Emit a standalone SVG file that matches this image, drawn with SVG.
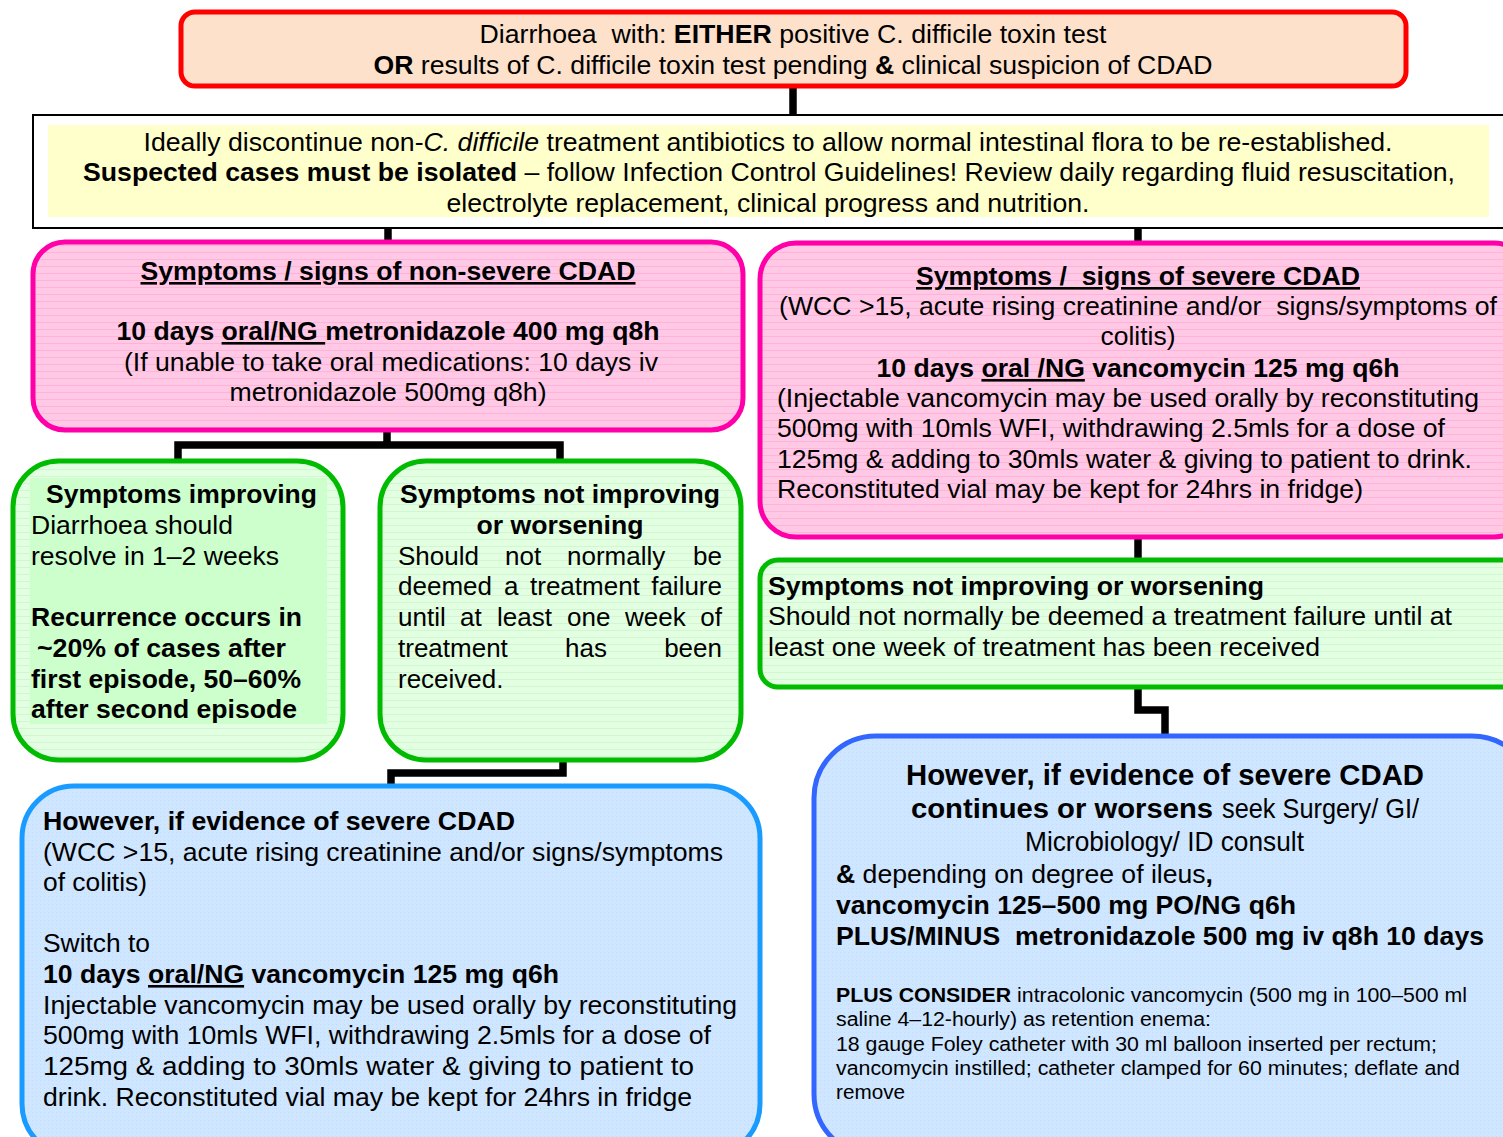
<svg xmlns="http://www.w3.org/2000/svg" width="1503" height="1137" viewBox="0 0 1503 1137">
<style>
text{font-family:"Liberation Sans",Arial,sans-serif;font-size:26px;fill:#000}
.b{font-weight:bold}
.m{text-anchor:middle}
.e{text-anchor:end}
.u{text-decoration:underline}
.s{font-size:20px}
.l{font-size:28px}
.p{white-space:pre}
.box{stroke-width:5}
.con{fill:none;stroke:#000;stroke-width:7.5;stroke-linejoin:miter}
</style>
<defs>
<pattern id="pk" width="8" height="7" patternUnits="userSpaceOnUse"><rect width="8" height="7" fill="#ffc9e6"/><rect y="0" width="8" height="1" fill="#ffb2da"/></pattern>
<pattern id="gr" width="8" height="7" patternUnits="userSpaceOnUse"><rect width="8" height="7" fill="#e2ffe2"/><rect y="0" width="8" height="1" fill="#d2f5d2"/></pattern>
<pattern id="bl" width="4" height="4" patternUnits="userSpaceOnUse"><rect width="4" height="4" fill="#cee6ff"/><rect width="1" height="1" fill="#c3ddf8"/></pattern>
</defs>

<g id="connectors">
<path class="con" d="M793 86V116"/>
<path class="con" d="M388 228V243"/>
<path class="con" d="M1138 228V244"/>
<path class="con" d="M387 430V445M178 462V445H560V462"/>
<path class="con" d="M563 760V773H391V787"/>
<path class="con" d="M1138 537V561"/>
<path class="con" d="M1138 688V710H1165V736"/>
</g>

<g id="n-top">
<rect x="181" y="12" width="1225" height="74" rx="14" fill="#fde1cb" stroke="#ff0000" class="box"/>
<text x="793" y="43" class="m p" xml:space="preserve" textLength="627" lengthAdjust="spacingAndGlyphs">Diarrhoea  with: <tspan class="b">EITHER</tspan> positive C. difficile toxin test</text>
<text x="793" y="74" class="m" textLength="839" lengthAdjust="spacingAndGlyphs"><tspan class="b">OR</tspan> results of C. difficile toxin test pending <tspan class="b">&amp;</tspan> clinical suspicion of CDAD</text>
</g>

<g id="n-general">
<rect x="33" y="115" width="1485" height="113" fill="#fff" stroke="#000" stroke-width="2"/>
<rect x="48" y="125" width="1441" height="92" fill="#ffffcc"/>
<text x="768" y="151" class="m" textLength="1249" lengthAdjust="spacingAndGlyphs">Ideally discontinue non-<tspan font-style="italic">C. difficile</tspan> treatment antibiotics to allow normal intestinal flora to be re-established.</text>
<text x="769" y="181" class="m" textLength="1372" lengthAdjust="spacingAndGlyphs"><tspan class="b">Suspected cases must be isolated</tspan> – follow Infection Control Guidelines! Review daily regarding fluid resuscitation,</text>
<text x="768" y="212" class="m" textLength="643" lengthAdjust="spacingAndGlyphs">electrolyte replacement, clinical progress and nutrition.</text>
</g>

<g id="n-nonsevere">
<rect x="33" y="242" width="710" height="188" rx="32" fill="url(#pk)" stroke="#ff00a8" class="box"/>
<text x="388" y="280" class="m b" textLength="495" lengthAdjust="spacingAndGlyphs"><tspan class="u">Symptoms / signs of non-severe CDAD</tspan></text>
<text x="388" y="340" class="m b" textLength="543" lengthAdjust="spacingAndGlyphs">10 days <tspan class="u">oral/NG </tspan>metronidazole 400 mg q8h</text>
<text x="391" y="371" class="m" textLength="534" lengthAdjust="spacingAndGlyphs">(If unable to take oral medications: 10 days iv</text>
<text x="388" y="401" class="m" textLength="317" lengthAdjust="spacingAndGlyphs">metronidazole 500mg q8h)</text>
</g>

<g id="n-severe">
<rect x="760" y="243" width="770" height="294" rx="36" fill="url(#pk)" stroke="#ff00a8" class="box"/>
<text x="1138" y="285" class="m b p" xml:space="preserve" textLength="444" lengthAdjust="spacingAndGlyphs"><tspan class="u">Symptoms /  signs of severe CDAD</tspan></text>
<text x="1138" y="315" class="m p" xml:space="preserve" textLength="718" lengthAdjust="spacingAndGlyphs">(WCC &gt;15, acute rising creatinine and/or  signs/symptoms of</text>
<text x="1138" y="345" class="m" textLength="75" lengthAdjust="spacingAndGlyphs">colitis)</text>
<text x="1138" y="377" class="m b" textLength="523" lengthAdjust="spacingAndGlyphs">10 days <tspan class="u">oral /NG</tspan> vancomycin 125 mg q6h</text>
<text x="777" y="407" textLength="702" lengthAdjust="spacingAndGlyphs">(Injectable vancomycin may be used orally by reconstituting</text>
<text x="777" y="437" textLength="668" lengthAdjust="spacingAndGlyphs">500mg with 10mls WFI, withdrawing 2.5mls for a dose of</text>
<text x="777" y="468" textLength="695" lengthAdjust="spacingAndGlyphs">125mg &amp; adding to 30mls water &amp; giving to patient to drink.</text>
<text x="777" y="498" textLength="586" lengthAdjust="spacingAndGlyphs">Reconstituted vial may be kept for 24hrs in fridge)</text>
</g>

<g id="n-improving">
<rect x="13" y="461" width="330" height="299" rx="46" fill="url(#gr)" stroke="#00bb00" class="box"/>
<rect x="30" y="478" width="297" height="246" fill="#ccffcc"/>
<text x="46" y="503" class="b" textLength="271" lengthAdjust="spacingAndGlyphs">Symptoms improving</text>
<text x="31" y="534" textLength="202" lengthAdjust="spacingAndGlyphs">Diarrhoea should</text>
<text x="31" y="565" textLength="248" lengthAdjust="spacingAndGlyphs">resolve in 1–2 weeks</text>
<text x="31" y="626" class="b" textLength="271" lengthAdjust="spacingAndGlyphs">Recurrence occurs in</text>
<text x="37" y="657" class="b" textLength="249" lengthAdjust="spacingAndGlyphs">~20% of cases after</text>
<text x="31" y="688" class="b" textLength="270" lengthAdjust="spacingAndGlyphs">first episode, 50–60%</text>
<text x="31" y="718" class="b" textLength="266" lengthAdjust="spacingAndGlyphs">after second episode</text>
</g>

<g id="n-notimproving-left">
<rect x="380" y="461" width="361" height="299" rx="46" fill="url(#gr)" stroke="#00bb00" class="box"/>
<text x="560" y="503" class="m b" textLength="320" lengthAdjust="spacingAndGlyphs">Symptoms not improving</text>
<text x="560" y="534" class="m b" textLength="167" lengthAdjust="spacingAndGlyphs">or worsening</text>
<text x="398" y="565">Should</text><text x="505" y="565">not</text><text x="567" y="565">normally</text><text x="722" y="565" class="e">be</text>
<text x="398" y="595">deemed</text><text x="504" y="595">a</text><text x="530" y="595">treatment</text><text x="722" y="595" class="e">failure</text>
<text x="398" y="626">until</text><text x="460" y="626">at</text><text x="497" y="626">least</text><text x="567" y="626">one</text><text x="625" y="626">week</text><text x="722" y="626" class="e">of</text>
<text x="398" y="657">treatment</text><text x="565" y="657">has</text><text x="722" y="657" class="e">been</text>
<text x="398" y="688">received.</text>
</g>

<g id="n-notimproving-right">
<rect x="760" y="560" width="770" height="127" rx="18" fill="url(#gr)" stroke="#00bb00" class="box"/>
<text x="768" y="595" class="b" textLength="496" lengthAdjust="spacingAndGlyphs">Symptoms not improving or worsening</text>
<text x="768" y="625" textLength="684" lengthAdjust="spacingAndGlyphs">Should not normally be deemed a treatment failure until at</text>
<text x="768" y="656" textLength="552" lengthAdjust="spacingAndGlyphs">least one week of treatment has been received</text>
</g>

<g id="n-switch">
<rect x="22" y="786" width="738" height="370" rx="52" fill="url(#bl)" stroke="#1a9bff" class="box"/>
<text x="43" y="830" class="b" textLength="472" lengthAdjust="spacingAndGlyphs">However, if evidence of severe CDAD</text>
<text x="43" y="861" textLength="680" lengthAdjust="spacingAndGlyphs">(WCC &gt;15, acute rising creatinine and/or signs/symptoms</text>
<text x="43" y="891" textLength="104" lengthAdjust="spacingAndGlyphs">of colitis)</text>
<text x="43" y="952" textLength="107" lengthAdjust="spacingAndGlyphs">Switch to</text>
<text x="43" y="983" class="b" textLength="516" lengthAdjust="spacingAndGlyphs">10 days <tspan class="u">oral/NG</tspan> vancomycin 125 mg q6h</text>
<text x="43" y="1014" textLength="694" lengthAdjust="spacingAndGlyphs">Injectable vancomycin may be used orally by reconstituting</text>
<text x="43" y="1044" textLength="668" lengthAdjust="spacingAndGlyphs">500mg with 10mls WFI, withdrawing 2.5mls for a dose of</text>
<text x="43" y="1075" textLength="651" lengthAdjust="spacingAndGlyphs">125mg &amp; adding to 30mls water &amp; giving to patient to</text>
<text x="43" y="1106" textLength="649" lengthAdjust="spacingAndGlyphs">drink. Reconstituted vial may be kept for 24hrs in fridge</text>
</g>

<g id="n-escalate">
<rect x="814" y="736" width="720" height="420" rx="62" fill="url(#bl)" stroke="#3366ff" class="box"/>
<text x="1165" y="785" class="m b" style="font-size:29px" textLength="518" lengthAdjust="spacingAndGlyphs">However, if evidence of severe CDAD</text>
<text x="911" y="818" class="b l" textLength="302" lengthAdjust="spacingAndGlyphs">continues or worsens</text>
<text x="1222" y="818" class="l" textLength="197" lengthAdjust="spacingAndGlyphs">seek Surgery/ GI/</text>
<text x="1025" y="851" class="l" textLength="279" lengthAdjust="spacingAndGlyphs">Microbiology/ ID consult</text>
<text x="836" y="883" textLength="377" lengthAdjust="spacingAndGlyphs"><tspan class="b">&amp;</tspan> depending on degree of ileus<tspan class="b">,</tspan></text>
<text x="836" y="914" class="b" textLength="460" lengthAdjust="spacingAndGlyphs">vancomycin 125–500 mg PO/NG q6h</text>
<text x="836" y="945" class="b p" xml:space="preserve" textLength="648" lengthAdjust="spacingAndGlyphs">PLUS/MINUS  metronidazole 500 mg iv q8h 10 days</text>
<text x="836" y="1002" class="s" textLength="631" lengthAdjust="spacingAndGlyphs"><tspan class="b">PLUS CONSIDER</tspan> intracolonic vancomycin (500 mg in 100–500 ml</text>
<text x="836" y="1026" class="s" textLength="375" lengthAdjust="spacingAndGlyphs">saline 4–12-hourly) as retention enema:</text>
<text x="836" y="1051" class="s" textLength="601" lengthAdjust="spacingAndGlyphs">18 gauge Foley catheter with 30 ml balloon inserted per rectum;</text>
<text x="836" y="1075" class="s" textLength="624" lengthAdjust="spacingAndGlyphs">vancomycin instilled; catheter clamped for 60 minutes; deflate and</text>
<text x="836" y="1099" class="s" textLength="69" lengthAdjust="spacingAndGlyphs">remove</text>
</g>
</svg>
